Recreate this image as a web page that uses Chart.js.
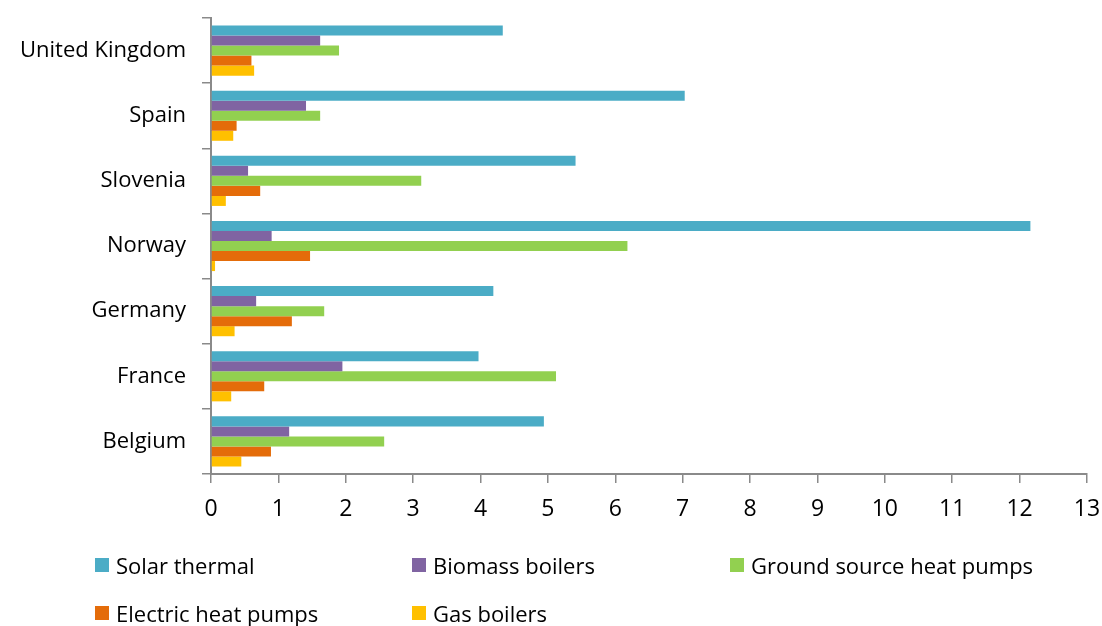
<!DOCTYPE html>
<html>
<head>
<meta charset="utf-8">
<script src="https://cdn.jsdelivr.net/npm/chart.js@4"></script>
<style>
  html, body { margin: 0; padding: 0; background: #fff; }
  #wrap { position: relative; width: 1102px; height: 626px; }
  #c { position: absolute; left: 0; top: 0; }
  .leg { position: absolute; font-family: "Open Sans", sans-serif; font-size: 22px; color: #000; white-space: nowrap; line-height: 26px; }
  .leg .box { position: absolute; left: 0; top: 6px; width: 14px; height: 14px; }
  .leg .txt { position: absolute; left: 21px; top: 0; }
</style>
</head>
<body>
<div id="wrap">
  <canvas id="c" width="1102" height="626"></canvas>
</div>
<script>
const categories = ["United Kingdom", "Spain", "Slovenia", "Norway", "Germany", "France", "Belgium"];
const seriesNames = ["Solar thermal", "Biomass boilers", "Ground source heat pumps", "Electric heat pumps", "Gas boilers"];
const solarThermal = [4.33, 7.03, 5.41, 12.16, 4.19, 3.97, 4.94];
const biomassBoilers = [1.62, 1.41, 0.55, 0.90, 0.67, 1.95, 1.16];
const groundSourceHP = [1.90, 1.62, 3.12, 6.18, 1.68, 5.12, 2.57];
const electricHP = [0.60, 0.38, 0.73, 1.47, 1.20, 0.79, 0.89];
const gasBoilers = [0.64, 0.33, 0.22, 0.06, 0.35, 0.30, 0.45];
const xTicks = [0,1,2,3,4,5,6,7,8,9,10,11,12,13];
const colors = ["#4BACC6", "#8064A2", "#92D050", "#E46C0A", "#FFC000"];

const seriesData = [solarThermal, biomassBoilers, groundSourceHP, electricHP, gasBoilers];
const FONT = "'Open Sans', sans-serif";
const axisColor = "#8a8a8a";

const chart = new Chart(document.getElementById('c'), {
  type: 'bar',
  data: {
    labels: categories,
    datasets: seriesNames.map((n, i) => ({
      label: n,
      data: seriesData[i],
      backgroundColor: colors[i],
      borderWidth: 0,
      barPercentage: 1.0,
      categoryPercentage: 0.77
    }))
  },
  options: {
    indexAxis: 'y',
    responsive: false,
    animation: false,
    layout: { padding: { left: 0, right: 15, top: 18, bottom: 0 } },
    plugins: { legend: { display: false }, tooltip: { enabled: false } },
    scales: {
      x: {
        min: 0, max: 13,
        afterBuildTicks: (s) => { s.ticks = xTicks.map(v => ({ value: v })); },
        afterFit: (s) => { s.height = 152; s.paddingLeft = 0; s.paddingRight = 0; },
        grid: { drawOnChartArea: false, drawTicks: true, tickLength: 9, color: axisColor, lineWidth: 1.5 },
        border: { color: axisColor, width: 2 },
        ticks: { color: "#000", font: { family: FONT, size: 23 }, padding: 13, maxRotation: 0, autoSkip: false }
      },
      y: {
        afterFit: (s) => { s.width = 211; s.paddingTop = 0; s.paddingBottom = 0; },
        grid: { drawOnChartArea: false, drawTicks: true, tickLength: 9, color: axisColor, lineWidth: 1.5, offset: true },
        border: { color: axisColor, width: 2 },
        ticks: { color: "#000", font: { family: FONT, size: 22 }, padding: 16, autoSkip: false }
      }
    }
  }
});

// HTML legend built from the dataset arrays
const legPos = [[95, 552], [412, 552], [730, 552], [95, 600], [412, 600]];
const wrap = document.getElementById('wrap');
seriesNames.forEach((n, i) => {
  const d = document.createElement('div');
  d.className = 'leg';
  d.style.left = legPos[i][0] + 'px';
  d.style.top = legPos[i][1] + 'px';
  d.innerHTML = '<span class="box" style="background:' + colors[i] + '"></span><span class="txt">' + n + '</span>';
  wrap.appendChild(d);
});
</script>
</body>
</html>
